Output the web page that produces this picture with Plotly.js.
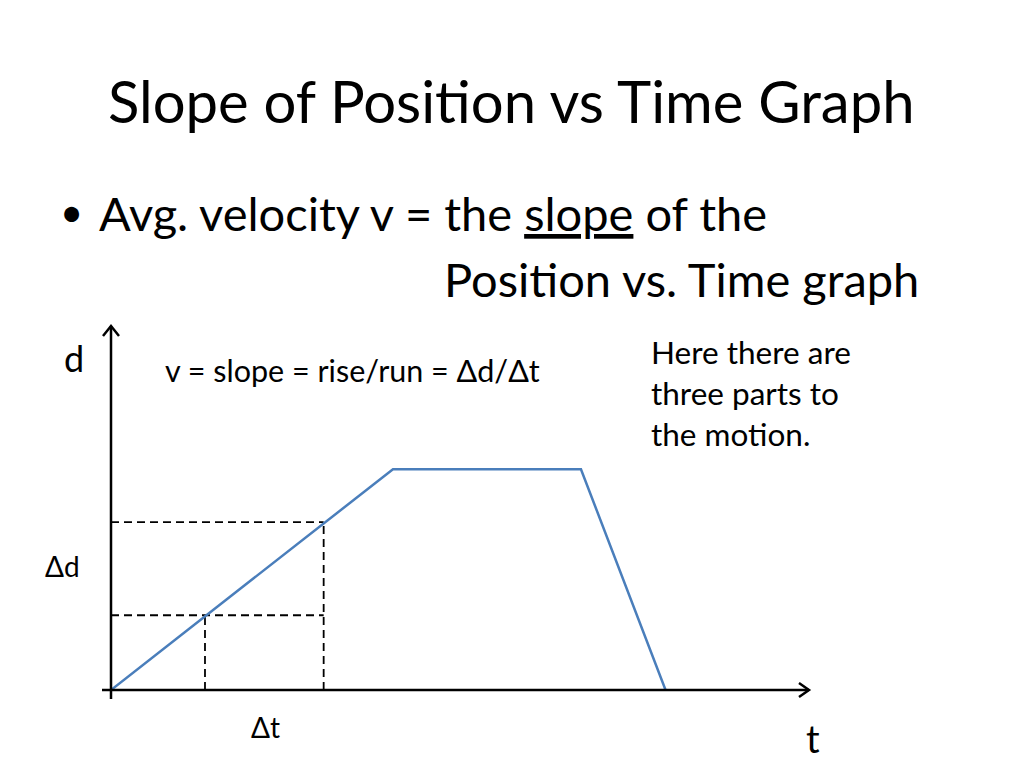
<!DOCTYPE html>
<html><head><meta charset="utf-8">
<script src="https://cdn.plot.ly/plotly-3.0.1.min.js"></script>
<style>html,body{margin:0;padding:0;background:#fff}#chart{width:1024px;height:768px}</style>
</head><body><div id="chart"></div>
<script>
// Position vs time motion (three parts)
const timeValues = [0, 12, 20, 23.6];
const positionValues = [0, 9.6, 9.6, 0];
// sample interval for delta-t / delta-d construction
const sampleTimes = [4, 9.05];
const samplePositions = [3.25, 7.3];

const titleText = 'Slope of Position vs Time Graph';
const bulletLine1 = 'Avg. velocity v = the <span style="text-decoration:underline">slope</span> of the';
const bulletLine2 = 'Position vs. Time graph';
const formulaText = 'v = slope = rise/run = Δd/Δt';
const noteText = 'Here there are<br>three parts to<br>the motion.';

const W = 1024, H = 768;
const L = 111, R = 811, T = 325, B = 690;
const px = x => (x - L) / (R - L);
const py = y => (B - y) / (B - T);
const FONT = 'Lato, "Open Sans", sans-serif';

const dashLine = {color: '#000', width: 1.8, dash: '8px,5px'};
const traces = [
  {x: [0, sampleTimes[1]], y: [samplePositions[1], samplePositions[1]], mode: 'lines', line: dashLine},
  {x: [0, sampleTimes[1]], y: [samplePositions[0], samplePositions[0]], mode: 'lines', line: dashLine},
  {x: [sampleTimes[0], sampleTimes[0]], y: [0, samplePositions[0]], mode: 'lines', line: dashLine},
  {x: [sampleTimes[1], sampleTimes[1]], y: [0, samplePositions[1]], mode: 'lines', line: dashLine},
  {x: timeValues, y: positionValues, mode: 'lines', line: {color: '#4a7ebb', width: 2.5}, hoverinfo: 'skip'}
];

const axLine = {color: '#000', width: 2.5};
const shapes = [
  {type: 'line', xref: 'paper', yref: 'paper', x0: px(111), y0: py(699), x1: px(111), y1: py(326), line: axLine},
  {type: 'path', xref: 'paper', yref: 'paper', path: `M ${px(103)} ${py(336)} L ${px(111)} ${py(326)} L ${px(119)} ${py(336)}`, line: axLine},
  {type: 'line', xref: 'paper', yref: 'paper', x0: px(102), y0: py(690), x1: px(809), y1: py(690), line: axLine},
  {type: 'path', xref: 'paper', yref: 'paper', path: `M ${px(799)} ${py(683)} L ${px(809)} ${py(690)} L ${px(799)} ${py(697)}`, line: axLine}
];

function ann(text, x, y, size, xanchor, yanchor, align) {
  return {text, xref: 'paper', yref: 'paper', x: px(x), y: py(y), showarrow: false,
    xanchor: xanchor || 'left', yanchor: yanchor || 'middle', align: align || 'left',
    font: {family: FONT, size, color: '#000'}};
}

const annotations = [
  ann(titleText, 511, 100, 58, 'center'),
  ann('•', 58, 212, 40),
  ann(bulletLine1, 97, 213, 47),
  ann(bulletLine2, 442, 279, 47),
  ann('d', 62, 358, 36),
  ann(formulaText, 163, 370, 30.5),
  ann(noteText, 649, 393, 31.5),
  ann('Δd', 43, 566, 28),
  ann('Δt', 249, 727, 28),
  ann('t', 804, 738, 38)
];

const layout = {
  width: W, height: H,
  margin: {l: L, r: W - R, t: T, b: H - B, pad: 0},
  paper_bgcolor: '#fff', plot_bgcolor: '#fff',
  showlegend: false,
  xaxis: {range: [0, 29.79], visible: false, fixedrange: true},
  yaxis: {range: [0, 15.87], visible: false, fixedrange: true},
  shapes, annotations
};

Plotly.newPlot('chart', traces, layout, {displayModeBar: false, staticPlot: true});
</script></body></html>
